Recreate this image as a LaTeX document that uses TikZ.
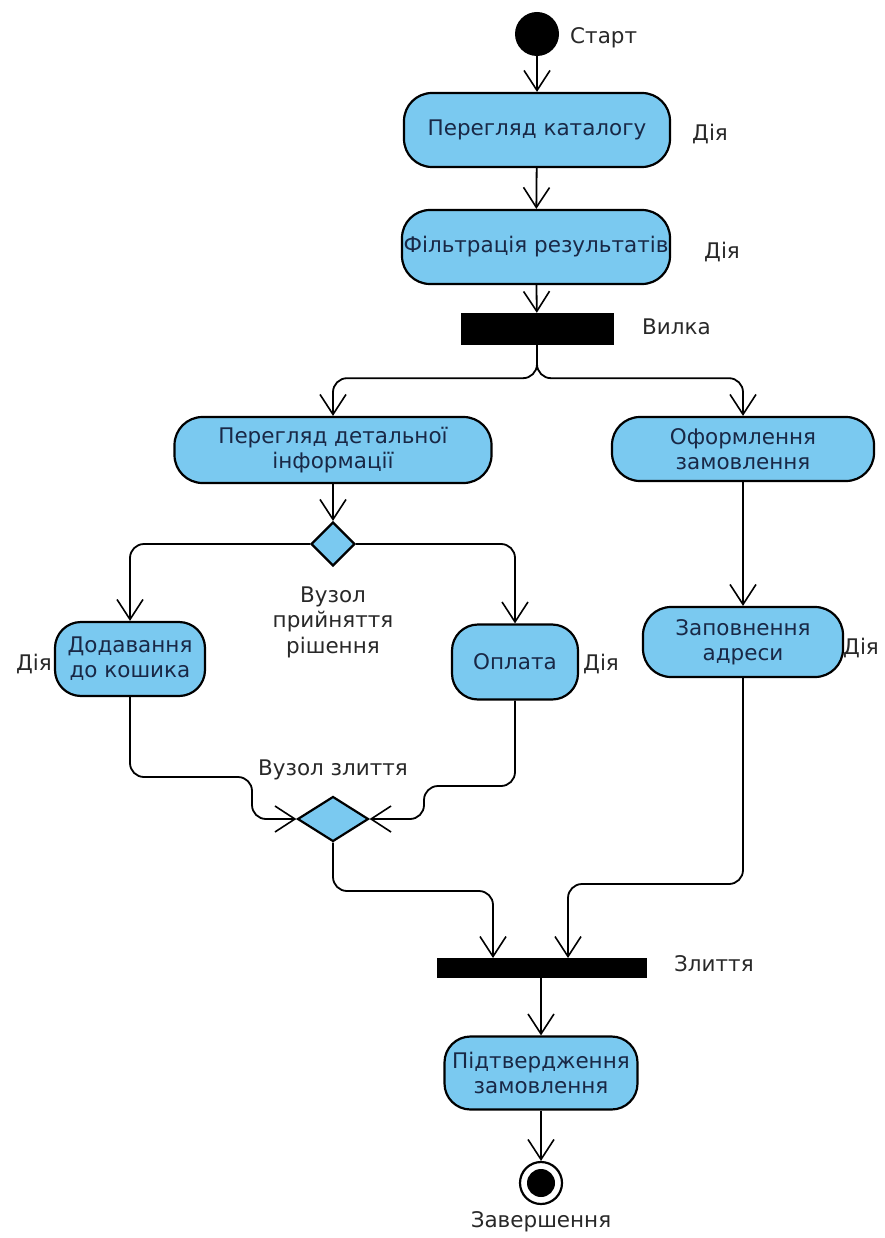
\documentclass[tikz,border=0pt]{standalone}
\usepackage{fontspec}
\setmainfont{DejaVu Sans}
\usetikzlibrary{arrows.meta,shapes.geometric}
\definecolor{actfill}{RGB}{122,201,240}
\definecolor{acttext}{RGB}{25,40,70}
\definecolor{lbltext}{RGB}{40,40,40}
\tikzset{
  act/.style={draw=black, line width=2.2pt, fill=actfill, rounded corners=28pt, align=center, text=acttext, font=\fontsize{21.5}{25}\selectfont, inner sep=0pt},
  lbl/.style={text=lbltext, font=\fontsize{21.5}{25.5}\selectfont, align=center, inner sep=0pt},
  bar/.style={fill=black, draw=none},
  dia/.style={diamond, draw=black, line width=2.2pt, fill=actfill, inner sep=0pt},
  arr/.style={-{Straight Barb[length=20pt,width=26pt,line width=1.6pt]}, line width=1.8pt, black},
}
\begin{document}
\begin{tikzpicture}[x=1pt,y=-1pt]
\useasboundingbox (0,0) rectangle (884,1238);
% start
\node[circle, fill=black, minimum size=44pt, inner sep=0pt] (start) at (537,34) {};
\node[lbl, anchor=west] (lstart) at (570,38) {Старт};
% actions
\node[act, minimum width=266pt, minimum height=74pt] (cat) at (537,130) {Перегляд каталогу};
\node[lbl, anchor=west] (lcat) at (692,134) {Дія};
\node[act, minimum width=268pt, minimum height=74pt] (filt) at (536,247) {Фільтрація результатів};
\node[lbl, anchor=west] (lfilt) at (704,252) {Дія};
% fork
\node[bar, minimum width=153pt, minimum height=32pt, inner sep=0pt] (fork) at (537,329) {};
\node[lbl, anchor=west] (lfork) at (642,327) {Вилка};
\node[act, minimum width=317pt, minimum height=66pt] (det) at (333,450) {Перегляд детальної\\інформації};
\node[act, minimum width=262pt, minimum height=64pt] (ord) at (743,449) {Оформлення\\замовлення};
% decision
\node[dia, minimum width=44pt, minimum height=44pt] (dec) at (333,544) {};
\node[lbl] (ldec) at (333,622) {Вузол\\прийняття\\рішення};
\node[act, minimum width=150pt, minimum height=74pt, rounded corners=26pt] (add) at (130,659) {Додавання\\до кошика};
\node[lbl, anchor=east] (ladd) at (52,664) {Дія};
\node[act, minimum width=126pt, minimum height=75pt, rounded corners=26pt] (pay) at (515,662) {Оплата};
\node[lbl, anchor=west] (lpay) at (583,664) {Дія};
\node[act, minimum width=200pt, minimum height=70pt] (addr) at (743,642) {Заповнення\\адреси};
\node[lbl, anchor=west] (laddr) at (843,648) {Дія};
% merge
\node[dia, minimum width=71pt, minimum height=45pt] (merge) at (333,819) {};
\node[lbl] (lmerge) at (333,770) {Вузол злиття};
% join
\node[bar, minimum width=210pt, minimum height=20pt, inner sep=0pt] (join) at (542,968) {};
\node[lbl, anchor=west] (ljoin) at (674,964) {Злиття};
\coordinate (j1) at (493,958);
\coordinate (j2) at (568,958);
\node[act, minimum width=193pt, minimum height=73pt, rounded corners=26pt] (conf) at (541,1073) {Підтвердження\\замовлення};
% end
\node[circle, draw=black, line width=2.2pt, fill=white, minimum size=42pt, inner sep=0pt] (endo) at (541,1183) {};
\node[circle, fill=black, minimum size=28pt, inner sep=0pt] (endi) at (541,1183) {};
\node[lbl] (lend) at (541,1222) {Завершення};
% connectors
\draw[arr] (start) -- (cat);
\draw[arr] (cat) -- (filt);
\draw[arr] (filt) -- (fork);
\draw[arr, rounded corners=14pt] (fork.south) -- ++(0,33) -| (det.north);
\draw[arr, rounded corners=14pt] (fork.south) -- ++(0,33) -| (ord.north);
\draw[arr] (det) -- (dec);
\draw[arr, rounded corners=14pt] (dec.west) -| (add.north);
\draw[arr, rounded corners=14pt] (dec.east) -| (pay.north);
\draw[arr] (ord) -- (addr);
\draw[arr, rounded corners=14pt] (add.south) |- (252,777) |- (merge.west);
\draw[arr, rounded corners=14pt] (pay.south) |- (424,786) |- (merge.east);
\draw[arr, rounded corners=14pt] (merge.south) |- (493,891) -- (j1);
\draw[arr, rounded corners=14pt] (addr.south) |- (568,884) -- (j2);
\draw[arr] (join.south -| conf.north) -- (conf.north);
\draw[arr] (conf) -- (endo);
\end{tikzpicture}
\end{document}
